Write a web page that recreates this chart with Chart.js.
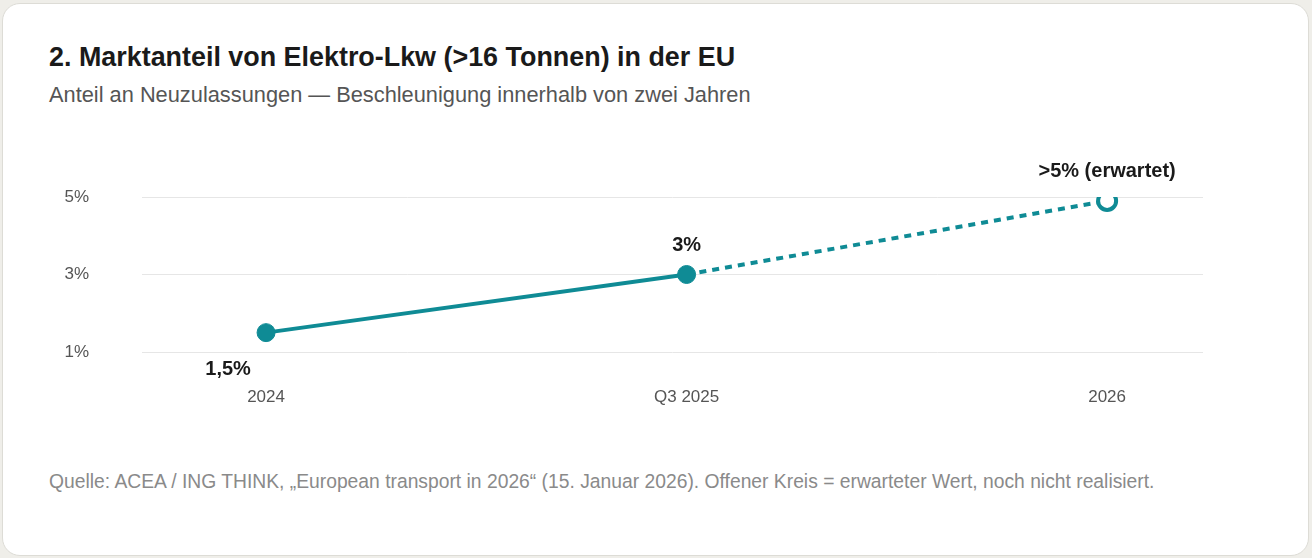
<!DOCTYPE html>
<html lang="de">
<head>
<meta charset="utf-8">
<title>Marktanteil Elektro-Lkw</title>
<script src="https://cdn.jsdelivr.net/npm/chart.js@4.4.1/dist/chart.umd.min.js"></script>
<style>
  html, body { margin: 0; padding: 0; }
  body {
    width: 1312px; height: 558px; overflow: hidden;
    background: #efeee9;
    font-family: "Liberation Sans", Arial, sans-serif;
  }
  .card {
    position: absolute; left: 2px; top: 3px; width: 1305px; height: 551px;
    background: #fff; border: 1px solid #dddcd6; border-radius: 18px;
  }
  .title, .sub, .note { position: absolute; left: 46px; margin: 0; line-height: 1; white-space: nowrap; }
  .title { top: 40px; font-size: 26.9px; font-weight: bold; color: #1a1a1a; }
  .sub { top: 80px; font-size: 21.8px; color: #555; }
  .note { top: 468px; font-size: 19.3px; color: #8a8a8a; }
  #wrap { position: absolute; left: 0; top: 130px; width: 1312px; height: 300px; }
</style>
</head>
<body>
<div class="card">
  <h1 class="title">2. Marktanteil von Elektro-Lkw (&gt;16 Tonnen) in der EU</h1>
  <p class="sub">Anteil an Neuzulassungen — Beschleunigung innerhalb von zwei Jahren</p>
  <p class="note">Quelle: ACEA / ING THINK, „European transport in 2026“ (15. Januar 2026). Offener Kreis = erwarteter Wert, noch nicht realisiert.</p>
</div>
<div id="wrap"><canvas id="chart"></canvas></div>
<script>
// Daten
const periods = ['2024', 'Q3 2025', '2026'];
const shares = [1.5, 3, 4.9];           // Marktanteil in %
const pointLabels = ['1,5%', '3%', '>5% (erwartet)'];
const expected = [false, false, true];  // offener Kreis = erwartet
const yTicks = [1, 3, 5];

const teal = '#0f8b95';
const font = '"Liberation Sans", Arial, sans-serif';

// Beschriftungen an den Punkten
const labelPlugin = {
  id: 'pointLabels',
  afterDatasetsDraw(chart) {
    const ctx = chart.ctx;
    const meta = chart.getDatasetMeta(0);
    ctx.save();
    ctx.font = 'bold 20px ' + font;
    ctx.fillStyle = '#1a1a1a';
    ctx.textAlign = 'center';
    ctx.textBaseline = 'middle';
    meta.data.forEach((pt, i) => {
      // erster Wert unter dem Punkt, die anderen darüber
      if (i === 0) ctx.fillText(pointLabels[i], pt.x - 38, pt.y + 37);
      else ctx.fillText(pointLabels[i], pt.x, pt.y - 29);
    });
    ctx.restore();
  }
};

const wrap = document.getElementById('wrap');
const canvas = document.getElementById('chart');
canvas.width = wrap.clientWidth;
canvas.height = wrap.clientHeight;

new Chart(canvas, {
  type: 'line',
  data: {
    datasets: [{
      data: shares.map((v, i) => ({ x: i, y: v })),
      borderColor: teal,
      borderWidth: 4,
      fill: false,
      tension: 0,
      pointRadius: 9,
      pointBorderWidth: expected.map(e => e ? 4 : 1),
      pointBackgroundColor: expected.map(e => e ? '#fff' : teal),
      pointBorderColor: teal,
      pointHoverRadius: 9,
      segment: {
        // gestrichelt bis zum erwarteten Wert
        borderDash: c => expected[c.p1DataIndex] ? [7, 6] : undefined
      }
    }]
  },
  options: {
    responsive: false,
    animation: false,
    layout: { padding: { left: 60, right: 109, top: 67, bottom: 0 } },
    plugins: {
      legend: { display: false },
      tooltip: { enabled: false }
    },
    scales: {
      x: {
        type: 'linear',
        min: -0.295,
        max: 2.228,
        afterBuildTicks: s => { s.ticks = periods.map((p, i) => ({ value: i })); },
        afterFit: s => { s.height = 78; },
        grid: { display: false, drawTicks: false },
        border: { display: false },
        ticks: {
          padding: 35,
          maxRotation: 0,
          color: '#555',
          font: { family: font, size: 17 },
          callback: v => periods[v]
        }
      },
      y: {
        min: 1,
        max: 5,
        afterBuildTicks: s => { s.ticks = yTicks.map(v => ({ value: v })); },
        afterFit: s => { s.width = 82; },
        grid: { color: '#e6e6e6', lineWidth: 1, drawTicks: false },
        border: { display: false },
        ticks: {
          padding: 53,
          color: '#555',
          font: { family: font, size: 17 },
          callback: v => v + '%'
        }
      }
    }
  },
  plugins: [labelPlugin]
});
</script>
</body>
</html>
